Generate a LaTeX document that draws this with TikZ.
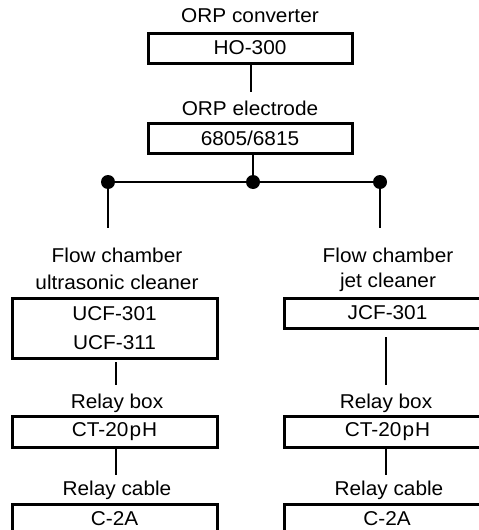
\documentclass[tikz,border=0pt]{standalone}
\usepackage{fontspec}
\setmainfont{Liberation Sans}[FakeStretch=1.04]
\begin{document}
\begin{tikzpicture}[x=1pt,y=-1pt,
  font=\fontsize{20}{29}\selectfont,
  box/.style={draw, line width=3pt, inner sep=0pt, align=center},
  lbl/.style={inner sep=0pt, align=center},
  wire/.style={line width=2pt},
  dot/.style={circle, fill, inner sep=0pt, minimum size=14pt}]
\useasboundingbox (0,0) rectangle (479,530);
\clip (0,0) rectangle (479,530);
% top chain
\node[lbl] (convlbl) at (250,16) {ORP converter};
\node[box, minimum width=204pt, minimum height=30pt] (ho) at (250,48) {HO-300};
\node[lbl] (eleclbl) at (250,108) {ORP electrode};
\node[box, minimum width=204pt, minimum height=30pt] (el) at (250,138) {6805/6815};
% bus
\node[dot] (dl) at (108,182) {};
\node[dot] (dm) at (253,182) {};
\node[dot] (dr) at (380,182) {};
\coordinate (c1a) at (251,63);
\coordinate (c1b) at (251,92);
\coordinate (lend) at (108,228);
\coordinate (rend) at (380,228);
\draw[wire] (c1a) -- (c1b);
\draw[wire] (el.south -| dm) -- (dm.center);
\draw[wire] (dl.center) -- (dr.center);
\draw[wire] (dl.center) -- (lend);
\draw[wire] (dr.center) -- (rend);
% left branch
\node[lbl] (lfc) at (117,255) {Flow chamber};
\node[lbl] (luc) at (117,282) {ultrasonic cleaner};
\node[box, minimum width=205pt, minimum height=60pt] (ucf) at (114.5,328) {UCF-301\\UCF-311};
\coordinate (l2a) at (116,362);
\coordinate (l2b) at (116,385);
\draw[wire] (l2a) -- (l2b);
\node[lbl] (lrb) at (117,403) {Relay box};
\node[box, minimum width=205pt, minimum height=31pt] (lct) at (114.5,431.5) {CT-20\kern1pt p\kern1pt H};
\coordinate (l3a) at (116,447);
\coordinate (l3b) at (116,475);
\draw[wire] (l3a) -- (l3b);
\node[lbl] (lrc) at (117,490) {Relay cable};
\node[box, minimum width=205pt, minimum height=34pt, anchor=north] (lc2) at (114.5,503) {};
\node[lbl, text depth=0pt] (lc2t) at (114.5,519) {C-2A};
% right branch
\node[lbl] (rfc) at (388,255) {Flow chamber};
\node[lbl] (rjc) at (388,282) {jet cleaner};
\node[box, minimum width=206pt, minimum height=30pt] (jcf) at (387.5,313) {JCF-301};
\coordinate (r2a) at (386,337);
\coordinate (r2b) at (386,385);
\draw[wire] (r2a) -- (r2b);
\node[lbl] (rrb) at (386,403) {Relay box};
\node[box, minimum width=206pt, minimum height=31pt] (rct) at (387.5,431.5) {CT-20\kern1pt p\kern1pt H};
\coordinate (r3a) at (386,447);
\coordinate (r3b) at (386,475);
\draw[wire] (r3a) -- (r3b);
\node[lbl] (rrc) at (389,490) {Relay cable};
\node[box, minimum width=206pt, minimum height=34pt, anchor=north] (rc2) at (387.5,503) {};
\node[lbl, text depth=0pt] (rc2t) at (387,519) {C-2A};
\end{tikzpicture}
\end{document}
